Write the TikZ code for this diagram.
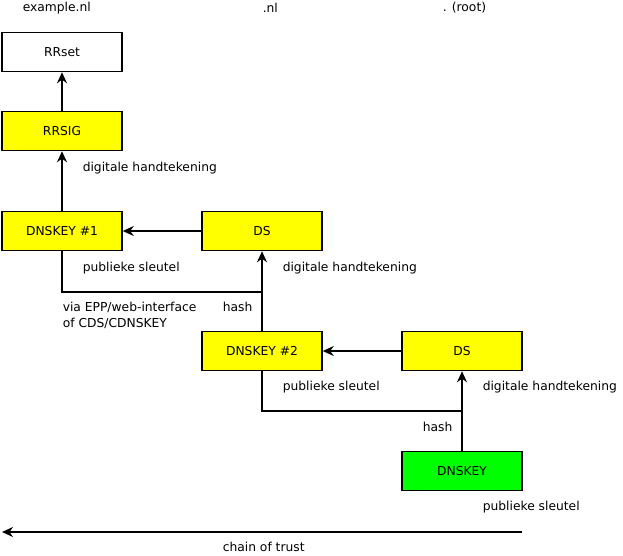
\documentclass[tikz,border=0pt]{standalone}
\usepackage{fontspec}
\setmainfont{DejaVu Sans}
\usetikzlibrary{arrows.meta}
\definecolor{keyyellow}{RGB}{255,255,0}
\definecolor{keygreen}{RGB}{0,255,0}
\begin{document}
\begin{tikzpicture}[
        x=1pt,y=-1pt,
        every node/.append style={font=\fontsize{12.3}{16}\selectfont},
        rec/.style={draw,line width=1.5pt,minimum width=120pt,minimum height=39pt,inner sep=0pt},
        key/.style={rec,fill=keyyellow},
        txt/.style={anchor=west,inner sep=0pt,align=left},
        arr/.style={-{Stealth[length=11pt,width=10pt]}},
        every path/.append style={line width=1.5pt}
    ]
        \useasboundingbox (0,0) rectangle (623,556);

        \node [txt] (h1) at (22,8)  {example.nl};
        \node [txt] (h2) at (262,8) {.nl};
        \node [txt] (h3) at (442,8) {. (root)};

        \node [rec] (rrset) at (62,52)  {RRset};
        \node [key] (rrsig) at (62,131) {RRSIG};
        \node [key] (dk1)   at (62,231) {DNSKEY \#1};
        \node [key] (ds1)   at (262,231) {DS};
        \node [key] (dk2)   at (262,351) {DNSKEY \#2};
        \node [key] (ds2)   at (462,351) {DS};
        \node [rec,fill=keygreen] (dk3) at (462,471) {DNSKEY};

        \draw [arr] (rrsig) -- (rrset);
        \draw [arr] (dk1) -- (rrsig);
        \draw [arr] (ds1) -- (dk1);
        \draw [arr] (ds2) -- (dk2);
        \draw [arr] (dk2) -- (ds1);
        \draw [arr] (dk3) -- (ds2);

        \coordinate (c1) at (62,292);
        \coordinate (c2) at (262,292);
        \coordinate (c3) at (262,411);
        \coordinate (c4) at (462,411);
        \draw (dk1) -- (c1) -- (c2);
        \draw (dk2) -- (c3) -- (c4);

        \node [txt] (l1) at (82,168)  {digitale handtekening};
        \node [txt] (l2) at (82,268)  {publieke sleutel};
        \node [txt] (l3) at (282,268) {digitale handtekening};
        \node [txt] (l4) at (62,315)  {via EPP/web-interface\\of CDS/CDNSKEY};
        \node [txt] (l5) at (222,307) {hash};
        \node [txt] (l6) at (282,387) {publieke sleutel};
        \node [txt] (l7) at (482,387) {digitale handtekening};
        \node [txt] (l8) at (422,427) {hash};
        \node [txt] (l9) at (482,507) {publieke sleutel};

        \coordinate (t1) at (522,532);
        \coordinate (t2) at (2,532);
        \draw [arr] (t1) -- (t2);
        \node [txt] (l10) at (222,547) {chain of trust};
\end{tikzpicture}
\end{document}
